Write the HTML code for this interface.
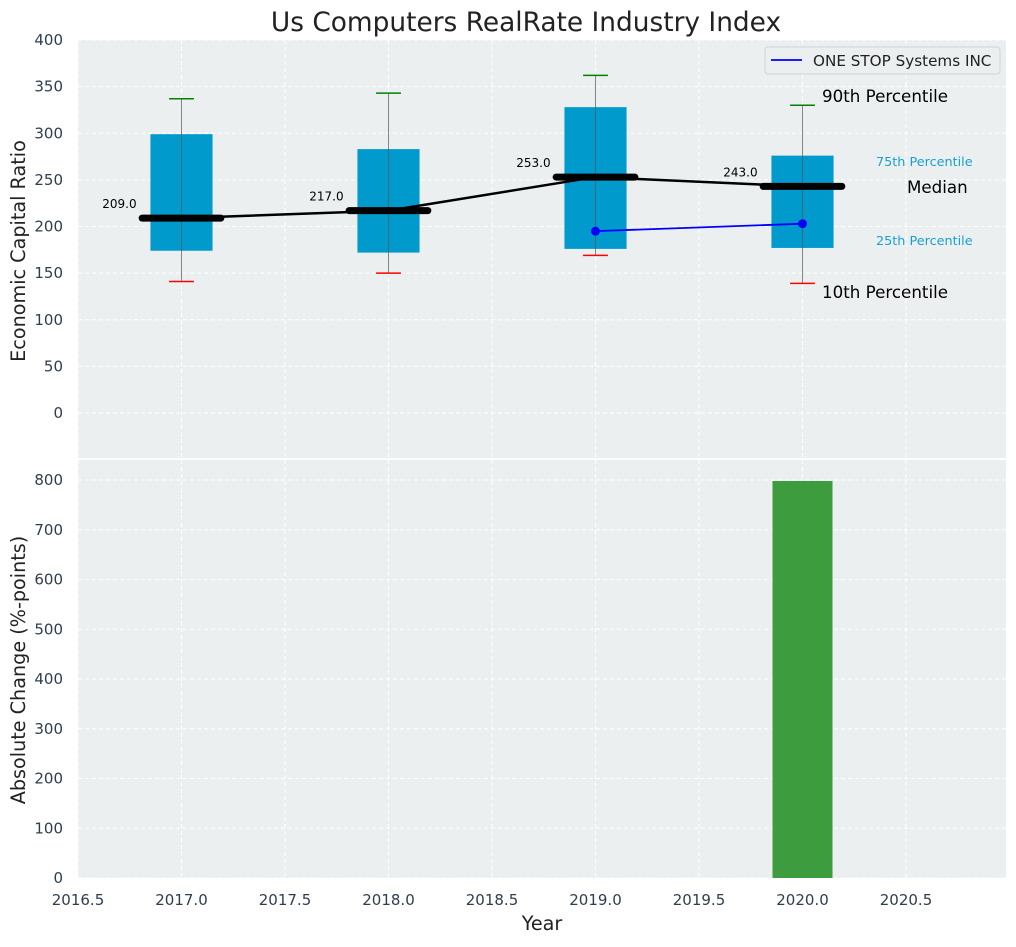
<!DOCTYPE html>
<html><head><meta charset="utf-8"><style>
body{margin:0;background:#fff;}
svg text{font-family:"DejaVu Sans","Liberation Sans",sans-serif;}
</style></head><body>
<svg id="chart" width="1016" height="942" xmlns="http://www.w3.org/2000/svg"></svg>
<script>
const years = [2017, 2018, 2019, 2020];
const p10 = [141, 150, 169, 139];
const q1 = [174, 172, 176, 177];
const median = [209, 217, 253, 243];
const q3 = [299, 283, 328, 276];
const p90 = [337, 343, 362, 330];
const companyYears = [2019, 2020];
const companyValues = [195, 203];
const changeYears = [2020];
const changeValues = [798];
const topTicks = [0, 50, 100, 150, 200, 250, 300, 350, 400];
const bottomTicks = [0, 100, 200, 300, 400, 500, 600, 700, 800];
const xTicks = [2016.5, 2017.0, 2017.5, 2018.0, 2018.5, 2019.0, 2019.5, 2020.0, 2020.5];

const svg = document.getElementById('chart');
const NS = 'http://www.w3.org/2000/svg';
const L = 78, R = 1006;
const x = v => 78 + (v - 2016.5) * 207;
const yT = v => 413 - v * 0.9325;
const yB = v => 878 - v * 0.4975;
function mk(tag, attrs, parent) {
  const e = document.createElementNS(NS, tag);
  for (const k in attrs) e.setAttribute(k, attrs[k]);
  (parent || svg).appendChild(e);
  return e;
}
function txt(s, attrs) { const t = mk('text', attrs); t.textContent = s; return t; }

let bg = mk('rect', {x: L, y: 40, width: R - L, height: 418, fill: '#eceff0'});


bg = mk('rect', {x: L, y: 460, width: R - L, height: 418, fill: '#eceff0'});



xTicks.forEach(t => {
  [[40, 458], [460, 878]].forEach(r => {
    const g = mk('line', {x1: x(t), x2: x(t), y1: r[0], y2: r[1], stroke: '#fff', 'stroke-dasharray': '4,3', 'stroke-width': 1});
    
    
  });
});
topTicks.forEach(t => {
  const g = mk('line', {x1: L, x2: R, y1: yT(t), y2: yT(t), stroke: '#fff', 'stroke-dasharray': '4,3'});
  
  
  const l = txt(t, {x: 63, y: yT(t) + 5, 'text-anchor': 'end', 'font-size': 15, fill: '#2e3d4f'});
  
  
});
bottomTicks.forEach(t => {
  const g = mk('line', {x1: L, x2: R, y1: yB(t), y2: yB(t), stroke: '#fff', 'stroke-dasharray': '4,3'});
  
  
  const l = txt(t, {x: 63, y: yB(t) + 5, 'text-anchor': 'end', 'font-size': 15, fill: '#2e3d4f'});
  
  
});
xTicks.forEach(t => {
  const l = txt(t.toFixed(1), {x: x(t), y: 905, 'text-anchor': 'middle', 'font-size': 15, fill: '#2e3d4f'});
  
  
});

years.forEach((yr, i) => {
  const cx = x(yr);
  const b = mk('rect', {x: x(yr - 0.15), y: yT(q3[i]), width: 0.3 * 207, height: yT(q1[i]) - yT(q3[i]), fill: '#009bcc'});
  
  
  const w = mk('line', {x1: cx, x2: cx, y1: yT(p10[i]), y2: yT(p90[i]), stroke: '#555', 'stroke-width': 1, opacity: 0.7});
  
  
  const ct = mk('line', {x1: x(yr - 0.06), x2: x(yr + 0.06), y1: yT(p90[i]), y2: yT(p90[i]), stroke: 'green', 'stroke-width': 1.5});
  
  
  const cb = mk('line', {x1: x(yr - 0.06), x2: x(yr + 0.06), y1: yT(p10[i]), y2: yT(p10[i]), stroke: 'red', 'stroke-width': 1.5});
  
  
});
const ml = mk('polyline', {points: years.map((yr, i) => x(yr) + ',' + yT(median[i])).join(' '), fill: 'none', stroke: '#000', 'stroke-width': 2.5});


years.forEach((yr, i) => {
  const m = mk('line', {x1: x(yr - 0.19), x2: x(yr + 0.19), y1: yT(median[i]), y2: yT(median[i]), stroke: '#000', 'stroke-width': 7, 'stroke-linecap': 'round'});
  
  
  const l = txt(median[i].toFixed(1), {x: x(yr - 0.3), y: yT(median[i]) - 10, 'text-anchor': 'middle', 'font-size': 12, fill: '#000'});
  
  
});
const cl = mk('polyline', {points: companyYears.map((yr, i) => x(yr) + ',' + yT(companyValues[i])).join(' '), fill: 'none', stroke: '#0000ff', 'stroke-width': 1.8});


companyYears.forEach((yr, i) => {
  const c = mk('circle', {cx: x(yr), cy: yT(companyValues[i]), r: 4.5, fill: '#0000ff'});
  
  
});
[[ '90th Percentile', 822, 102, 16.7, '#000'],
 [ '75th Percentile', 876, 166, 12.8, '#1a9fcf'],
 [ 'Median', 907, 193, 16.7, '#000'],
 [ '25th Percentile', 876, 245, 12.8, '#1a9fcf'],
 [ '10th Percentile', 822, 298, 16.7, '#000']].forEach(a => {
  const t = txt(a[0], {x: a[1], y: a[2], 'font-size': a[3], fill: a[4]});
  
  
});
changeYears.forEach((yr, i) => {
  const b = mk('rect', {x: x(yr - 0.145), y: yB(changeValues[i]), width: 0.29 * 207, height: yB(0) - yB(changeValues[i]), fill: '#3d9c3d'});
  
  
});
const lg = mk('rect', {x: 765, y: 47, width: 235, height: 27, rx: 3, fill: '#eceff0', stroke: '#d0d3d6'});


const ll = mk('line', {x1: 771, x2: 802, y1: 60, y2: 60, stroke: '#0000ff', 'stroke-width': 1.8});


const lt = txt('ONE STOP Systems INC', {x: 813, y: 66, 'font-size': 15.2, fill: '#222'});


let t = txt('Us Computers RealRate Industry Index', {x: 526, y: 31, 'text-anchor': 'middle', 'font-size': 26.4, fill: '#222'});


t = txt('Economic Capital Ratio', {x: 25, y: 251, 'text-anchor': 'middle', 'font-size': 19.2, fill: '#222', transform: 'rotate(-90 25 251)'});


t = txt('Absolute Change (%-points)', {x: 25, y: 670, 'text-anchor': 'middle', 'font-size': 19.2, fill: '#222', transform: 'rotate(-90 25 670)'});


t = txt('Year', {x: 542, y: 930, 'text-anchor': 'middle', 'font-size': 19.2, fill: '#222'});


</script>
</body></html>
